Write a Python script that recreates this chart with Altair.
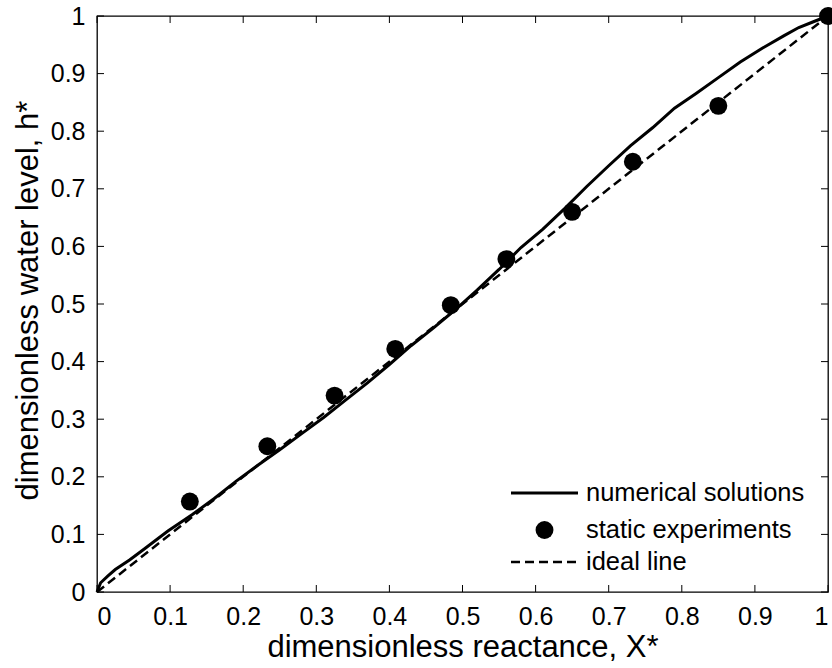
import altair as alt
import pandas as pd

# ---- data ----
num_x = [0, 0.005, 0.015, 0.025, 0.045, 0.066, 0.097, 0.13, 0.16, 0.19, 0.22, 0.25,
         0.28, 0.31, 0.34, 0.37, 0.40, 0.43, 0.46, 0.49, 0.52, 0.55, 0.58, 0.61,
         0.64, 0.67, 0.70, 0.73, 0.76, 0.79, 0.82, 0.85, 0.88, 0.91, 0.94, 0.96, 0.98, 1.0]
num_y = [0, 0.016, 0.028, 0.039, 0.056, 0.076, 0.106, 0.134, 0.162, 0.192, 0.220, 0.247,
         0.275, 0.303, 0.333, 0.363, 0.395, 0.428, 0.458, 0.490, 0.524, 0.560, 0.598, 0.630,
         0.666, 0.704, 0.740, 0.775, 0.806, 0.840, 0.866, 0.893, 0.920, 0.944, 0.966, 0.980, 0.990, 1.0]

exp_x = [0.127, 0.233, 0.325, 0.408, 0.484, 0.560, 0.650, 0.733, 0.850, 1.0]
exp_y = [0.157, 0.253, 0.341, 0.422, 0.498, 0.578, 0.660, 0.747, 0.844, 1.0]

ideal_x = [0, 1]
ideal_y = [0, 1]

tick_values = [0, 0.1, 0.2, 0.3, 0.4, 0.5, 0.6, 0.7, 0.8, 0.9, 1]
legend_labels = ["numerical solutions", "static experiments", "ideal line"]

x_title = "dimensionless reactance, X*"
y_title = "dimensionless water level, h*"

# ---- layout / style ----
W, H = 731, 576
FONT = "Liberation Sans"
TICK = 7

num_df = pd.DataFrame({"x": num_x, "y": num_y})
exp_df = pd.DataFrame({"x": exp_x, "y": exp_y})
ideal_df = pd.DataFrame({"x": ideal_x, "y": ideal_y})
xt_df = pd.DataFrame({"x": tick_values})
yt_df = pd.DataFrame({"y": tick_values})

xscale = alt.Scale(domain=[0, 1], nice=False, zero=False)
yscale = alt.Scale(domain=[0, 1], nice=False, zero=False)

xaxis = alt.Axis(values=tick_values, format="~g", title=x_title,
                 labelPadding=12, titleY=64, titleX=W / 2,
                 titleBaseline="alphabetic", titleAlign="center")
yaxis = alt.Axis(values=tick_values, format="~g", title=y_title,
                 labelPadding=12, titleX=-60, titleY=H / 2 - 4, titleAngle=-90,
                 titleBaseline="alphabetic", titleAlign="center")

X = alt.X("x:Q", scale=xscale, axis=xaxis)
Y = alt.Y("y:Q", scale=yscale, axis=yaxis)

ideal = alt.Chart(ideal_df).mark_line(color="black", strokeWidth=2.5,
                                      strokeDash=[9, 5]).encode(x=X, y=Y)
numerical = alt.Chart(num_df).mark_line(color="black", strokeWidth=3).encode(x=X, y=Y)
points = alt.Chart(exp_df).mark_circle(color="black", opacity=1, size=320).encode(x=X, y=Y)

# inward ticks on all four sides (MATLAB box style)
xt_bottom = alt.Chart(xt_df).mark_rule(color="black", strokeWidth=1).encode(
    x=X, y=alt.value(H), y2=alt.value(H - TICK))
xt_top = alt.Chart(xt_df).mark_rule(color="black", strokeWidth=1).encode(
    x=X, y=alt.value(0), y2=alt.value(TICK))
yt_left = alt.Chart(yt_df).mark_rule(color="black", strokeWidth=1).encode(
    y=Y, x=alt.value(0), x2=alt.value(TICK))
yt_right = alt.Chart(yt_df).mark_rule(color="black", strokeWidth=1).encode(
    y=Y, x=alt.value(W), x2=alt.value(W - TICK))

# legend (inside, lower right, no box)
rows = [477, 514, 546]
sym_x0, sym_x1, txt_x = 414, 481, 489
leg_df = [pd.DataFrame({"label": [lab]}) for lab in legend_labels]

leg_line = alt.Chart(leg_df[0]).mark_rule(color="black", strokeWidth=3).encode(
    x=alt.value(sym_x0), x2=alt.value(sym_x1), y=alt.value(rows[0]))
leg_pt = alt.Chart(leg_df[1]).mark_circle(color="black", opacity=1, size=320).encode(
    x=alt.value((sym_x0 + sym_x1) / 2), y=alt.value(rows[1]))
leg_dash = alt.Chart(leg_df[2]).mark_rule(color="black", strokeWidth=2.5,
                                           strokeDash=[9, 5]).encode(
    x=alt.value(sym_x0), x2=alt.value(sym_x1), y=alt.value(rows[2]))
leg_text = [
    alt.Chart(leg_df[i]).mark_text(align="left", baseline="middle", font=FONT,
                                   fontSize=25.5, color="black").encode(
        x=alt.value(txt_x), y=alt.value(rows[i]), text="label:N")
    for i in range(3)
]

chart = alt.layer(
    ideal, numerical, points, xt_bottom, xt_top, yt_left, yt_right,
    leg_line, leg_pt, leg_dash, *leg_text
).properties(
    width=W, height=H, autosize="none",
    padding={"left": 97, "top": 16, "right": 4, "bottom": 76},
    background="white",
).configure_view(
    stroke="black", strokeWidth=1.3
).configure_axis(
    domain=False, ticks=False, tickSize=0, grid=False,
    labelFont=FONT, labelFontSize=25, labelColor="black",
    titleFont=FONT, titleFontSize=31, titleFontWeight="normal", titleColor="black",
)

chart.save("out.html", embed_options={"renderer": "svg", "actions": False})
